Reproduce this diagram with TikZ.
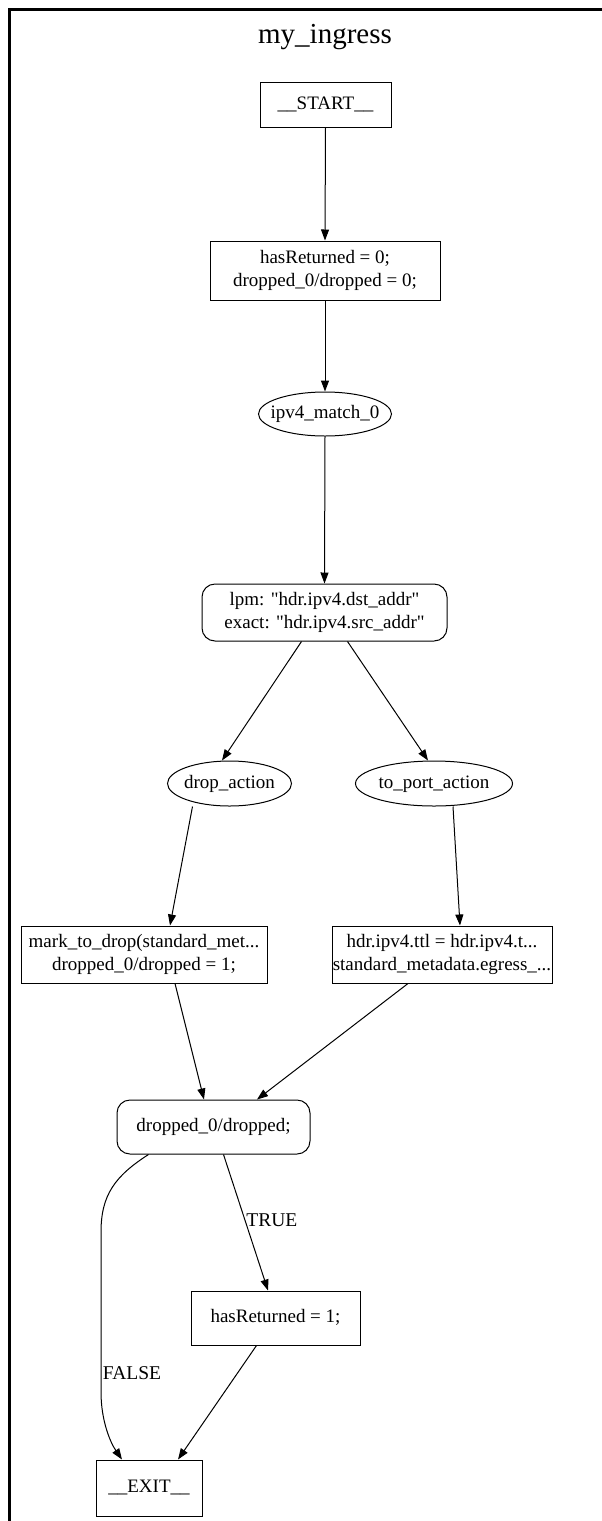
\documentclass[tikz,border=0pt]{standalone}
\usepackage{fontspec}
\setmainfont{Liberation Serif}
\usetikzlibrary{shapes.geometric,arrows.meta}
\newcommand{\zt}[1]{\makebox[0pt]{\begin{tabular}{@{}c@{}}#1\end{tabular}}}
\begin{document}
\begin{tikzpicture}[x=1pt,y=-1pt,
  every node/.style={font=\fontsize{19}{23}\selectfont, align=center, inner sep=0pt},
  boxnode/.style={draw, line width=1pt, rectangle},
  roundnode/.style={draw, line width=1pt, rectangle, rounded corners=13pt},
  ellnode/.style={draw, line width=1pt, ellipse},
  edge/.style={line width=1pt, -{Triangle[length=11pt,width=8pt]}},
  lbl/.style={font=\fontsize{19.5}{23}\selectfont}]
\useasboundingbox (0,0) rectangle (602,1521);
\fill[white] (0,0) rectangle (602,1521);
\draw[line width=3pt] (9,1530) -- (9,9) -- (610,9);
\node[font=\fontsize{29}{34}\selectfont] (title) at (325,37) {my\_ingress};
\node[boxnode, minimum width=131pt, minimum height=45pt] (start) at (325.5,104.5) {\zt{\_\_START\_\_}};
\node[boxnode, minimum width=230pt, minimum height=59pt] (init) at (325,270.5) {\zt{hasReturned = 0;\\dropped\_0/dropped = 0;}};
\node[ellnode, minimum width=133pt, minimum height=44pt] (match) at (325,414) {\zt{ipv4\_match\_0}};
\node[roundnode, minimum width=245pt, minimum height=57pt] (lpm) at (324.5,612.5) {\zt{lpm: \textquotedbl hdr.ipv4.dst\_addr\textquotedbl\\exact: \textquotedbl hdr.ipv4.src\_addr\textquotedbl}};
\node[ellnode, minimum width=124pt, minimum height=45pt] (dropa) at (229.5,783.5) {\zt{drop\_action}};
\node[ellnode, minimum width=157pt, minimum height=45pt] (porta) at (434,783.5) {\zt{to\_port\_action}};
\node[boxnode, minimum width=246pt, minimum height=57pt] (mark) at (144,954.5) {\zt{mark\_to\_drop(standard\_met...\\dropped\_0/dropped = 1;}};
\node[boxnode, minimum width=220pt, minimum height=57pt] (ttl) at (442,954.5) {\zt{hdr.ipv4.ttl = hdr.ipv4.t...\\standard\_metadata.egress\_...}};
\node[roundnode, minimum width=193pt, minimum height=54pt] (cond) at (213.5,1127) {\zt{dropped\_0/dropped;}};
\node[boxnode, minimum width=169pt, minimum height=54pt] (ret) at (275.5,1318) {\zt{hasReturned = 1;}};
\node[boxnode, minimum width=106pt, minimum height=56pt] (exit) at (149,1488) {\zt{\_\_EXIT\_\_}};
\draw[edge] (start.south) -- (init.north);
\draw[edge] (init.south) -- (match.north);
\draw[edge] (match.south) -- (lpm.north);
\draw[edge] ([xshift=-23pt]lpm.south) -- (dropa.north -| 222,0);
\draw[edge] ([xshift=23pt]lpm.south) -- (porta.north -| 428,0);
\draw[edge] ([xshift=-37pt]dropa.south) -- (mark.north -| 170,0);
\draw[edge] ([xshift=19pt]porta.south) -- (ttl.north -| 460,0);
\draw[edge] ([xshift=31pt]mark.south) -- (cond.north -| 204,0);
\draw[edge] ([xshift=-34pt]ttl.south) -- (cond.north -| 257,0);
\draw[edge] ([xshift=10pt]cond.south) -- node[lbl, right, pos=0.48, xshift=1pt] (tl) {TRUE} (ret.north -| 268,0);
\draw[edge] ([xshift=-65pt]cond.south) .. controls (115,1176) and (101,1195) .. (101,1232) -- (101,1392) .. controls (101,1420) and (110,1442) .. (exit.north -| 122,0);
\node[lbl] (fl) at (132,1373) {FALSE};
\draw[edge] ([xshift=-19pt]ret.south) -- (exit.north -| 178,0);
\end{tikzpicture}
\end{document}
